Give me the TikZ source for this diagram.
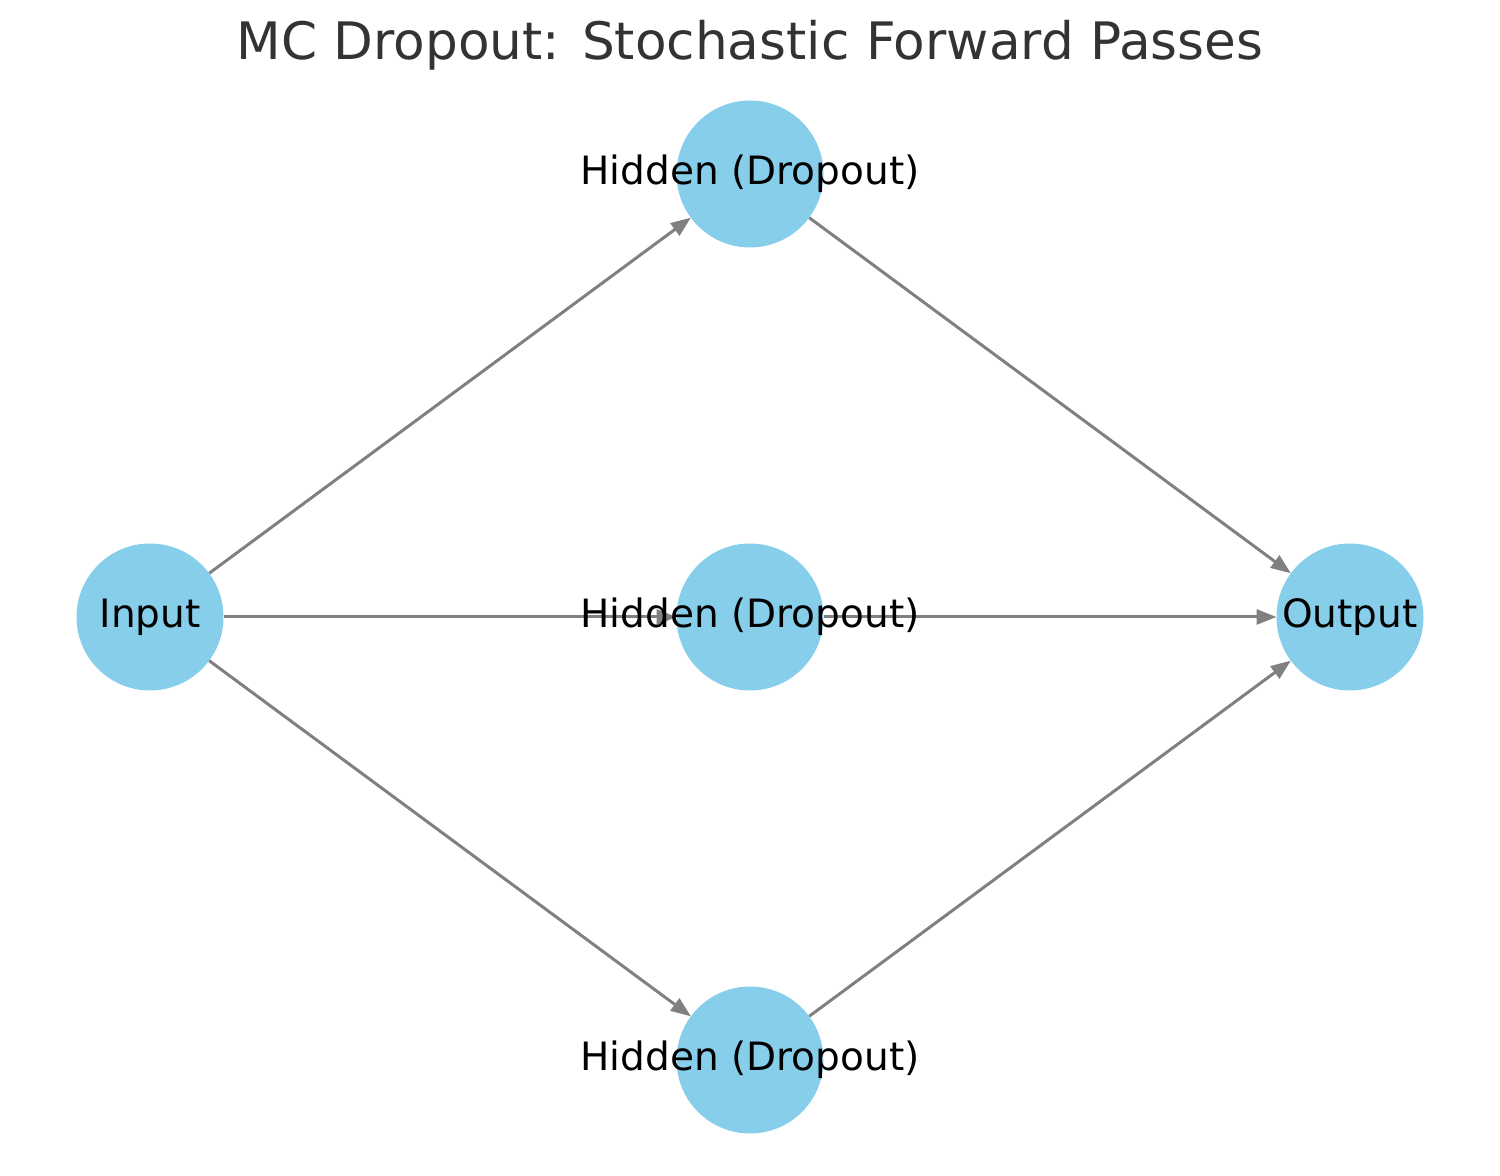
\documentclass[tikz,border=0pt]{standalone}
\usepackage{fontspec}
\setmainfont{DejaVu Sans}
\usetikzlibrary{arrows.meta,backgrounds}
\definecolor{skyblue}{HTML}{87CEEB}
\definecolor{titlegray}{HTML}{333333}
\tikzset{
    neuron/.style={circle,fill=skyblue,minimum size=1.47cm,inner sep=0pt,outer sep=0pt},
    pass/.style={draw=gray,line width=0.85pt,-{Triangle[length=2mm,width=1.5mm]}},
    every label/.style={font=\fontsize{11.1}{13}\selectfont,text=black}
}
\begin{document}
\begin{tikzpicture}
    \useasboundingbox (0,0) rectangle (15,-11.76);
    \node[text=titlegray,font=\fontsize{14.7}{17}\selectfont] (title) at (7.5,-0.45) {MC Dropout: Stochastic Forward Passes};

    \node[neuron,label=center:Input]  (in)  at (1.5,-6.17)  {};
    \node[neuron,label=center:Hidden (Dropout)] (h1) at (7.5,-1.74)  {};
    \node[neuron,label=center:Hidden (Dropout)] (h2) at (7.5,-6.17)  {};
    \node[neuron,label=center:Hidden (Dropout)] (h3) at (7.5,-10.60) {};
    \node[neuron,label=center:Output] (out) at (13.5,-6.17) {};

    \begin{pgfonlayer}{background}
        \foreach \h in {h1,h2,h3} {
            \draw[pass] (in) -- (\h);
            \draw[pass] (\h) -- (out);
        }
    \end{pgfonlayer}
\end{tikzpicture}
\end{document}
